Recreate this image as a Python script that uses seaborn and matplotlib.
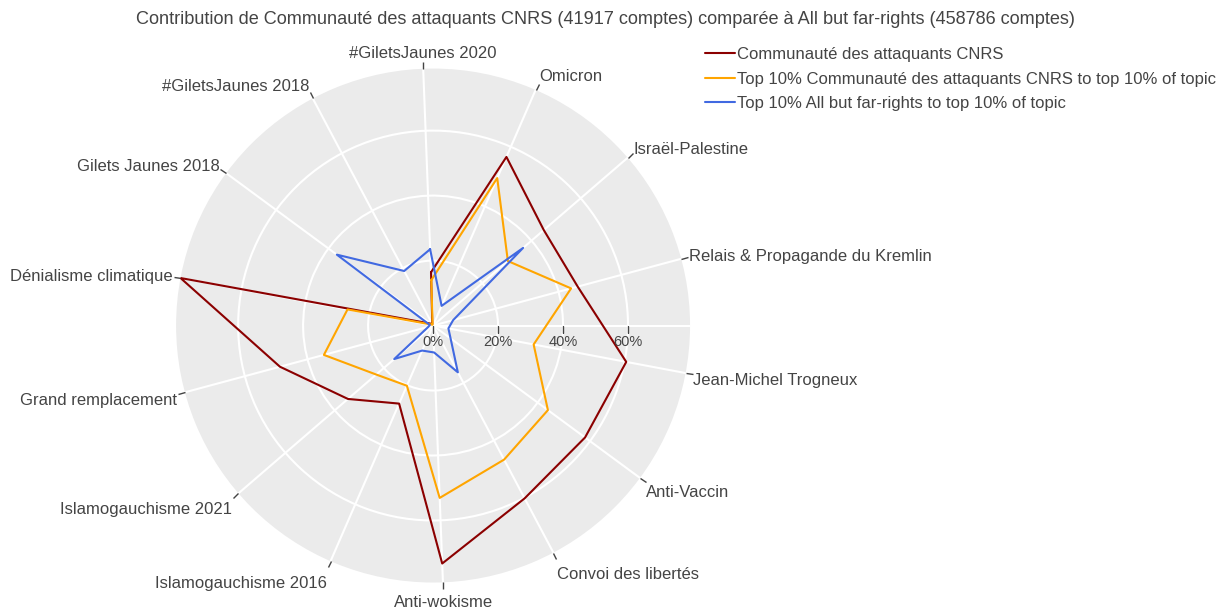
import numpy as np
import pandas as pd
import seaborn as sns
import matplotlib
matplotlib.use("Agg")
import matplotlib.pyplot as plt

categories = ["#GiletsJaunes 2020", "Omicron", "Israël-Palestine",
              "Relais & Propagande du Kremlin", "Jean-Michel Trogneux",
              "Anti-Vaccin", "Convoi des libertés", "Anti-wokisme",
              "Islamogauchisme 2016", "Islamogauchisme 2021",
              "Grand remplacement", "Dénialisme climatique",
              "Gilets Jaunes 2018", "#GiletsJaunes 2018"]

series_names = ["Communauté des attaquants CNRS",
                "Top 10% Communauté des attaquants CNRS to top 10% of topic",
                "Top 10% All but far-rights to top 10% of topic"]

communaute = [16.4, 56.6, 45.0, 46.1, 60.5, 58.1, 60.2, 73.3, 26.2, 34.6, 48.8, 79.1, 1.0, 0.5]
top_communaute = [14.0, 49.5, 30.4, 44.0, 31.5, 43.9, 46.7, 53.1, 20.2, 23.1, 34.8, 26.8, 0.5, 0.3]
top_all_but = [23.5, 6.6, 36.6, 6.4, 4.8, 6.7, 16.3, 8.3, 8.4, 15.8, 1.5, 1.0, 36.8, 19.0]

radial_ticks = [0, 20, 40, 60]
colors = ["#8B0000", "#FFA500", "#4169E1"]

title = ("Contribution de Communauté des attaquants CNRS (41917 comptes) "
         "comparée à All but far-rights (458786 comptes)")

sns.set_style("white")
plt.rcParams['font.family'] = ['Liberation Sans', 'DejaVu Sans']
text_color = "#444444"

n = len(categories)
theta = np.arange(n) * 2 * np.pi / n
offset_deg = 92.2

rows = []
for name, vals in zip(series_names, [communaute, top_communaute, top_all_but]):
    for i in range(n + 1):
        rows.append({"theta": theta[i % n] if i < n else 2 * np.pi,
                     "value": vals[i % n], "series": name})
df = pd.DataFrame(rows)

fig = plt.figure(figsize=(12.31, 6.11), dpi=100)
ax = fig.add_axes([0.143, 0.0466, 0.4176, 0.8412], projection="polar")
ax.set_theta_direction(-1)
ax.set_theta_offset(np.deg2rad(offset_deg))
ax.set_facecolor("#EBEBEB")
ax.spines["polar"].set_visible(False)

rmax = max(communaute)
ax.set_ylim(0, rmax)

sns.lineplot(data=df, x="theta", y="value", hue="series", palette=colors,
             sort=False, estimator=None, linewidth=1.5, ax=ax)
handles, labels = ax.get_legend_handles_labels()
ax.get_legend().remove()

ax.set_xticks(theta)
ax.set_xticklabels([])
ax.set_yticks(radial_ticks)
ax.set_yticklabels([])
ax.set_xlabel("")
ax.set_ylabel("")
ax.grid(True, color="white", linewidth=1.5)
ax.tick_params(axis="x", bottom=False, top=True, length=5, width=1,
               color="#444444", direction="out")
ax.tick_params(axis="y", length=0)

# radial axis line at display angle 0
theta0 = np.deg2rad(offset_deg)
ax.plot([theta0, theta0], [0, rmax], color="white", linewidth=1.5, zorder=1)
for r in radial_ticks:
    ax.plot([theta0], [r], marker=3, markersize=5, markeredgewidth=1,
            color="#444444", zorder=3)
    ax.annotate(f"{r}%", xy=(theta0, r), xytext=(0, -16), textcoords="offset pixels",
                ha="center", va="center", fontsize=10.5, color=text_color)

# angular labels, plotly-like placement
for t, lab in zip(theta, categories):
    a = np.deg2rad(offset_deg) - t
    c, s = np.cos(a), np.sin(a)
    ha = "left" if c > 0.25 else ("right" if c < -0.25 else "center")
    dx = c * 8
    dy = s * (6 + 9 * abs(s))
    if s < -0.95:
        dy -= 5
    elif s < 0:
        dy -= 5 + 5 * abs(s)
    ax.annotate(lab, xy=(t, rmax), xytext=(dx, dy), textcoords="offset pixels",
                ha=ha, va="center", fontsize=12, color=text_color,
                annotation_clip=False)

fig.legend(handles, labels, loc="upper left",
           bbox_to_anchor=(705 / 1231, 1 - 47 / 611), frameon=False,
           fontsize=12, handlelength=1.8, handletextpad=0.12,
           labelspacing=0.58, borderaxespad=0, borderpad=0,
           labelcolor=text_color)

fig.text(0.492, 1 - 19 / 611, title, ha="center", va="center",
         fontsize=13.1, color=text_color)

fig.savefig("out.png", dpi=100)
